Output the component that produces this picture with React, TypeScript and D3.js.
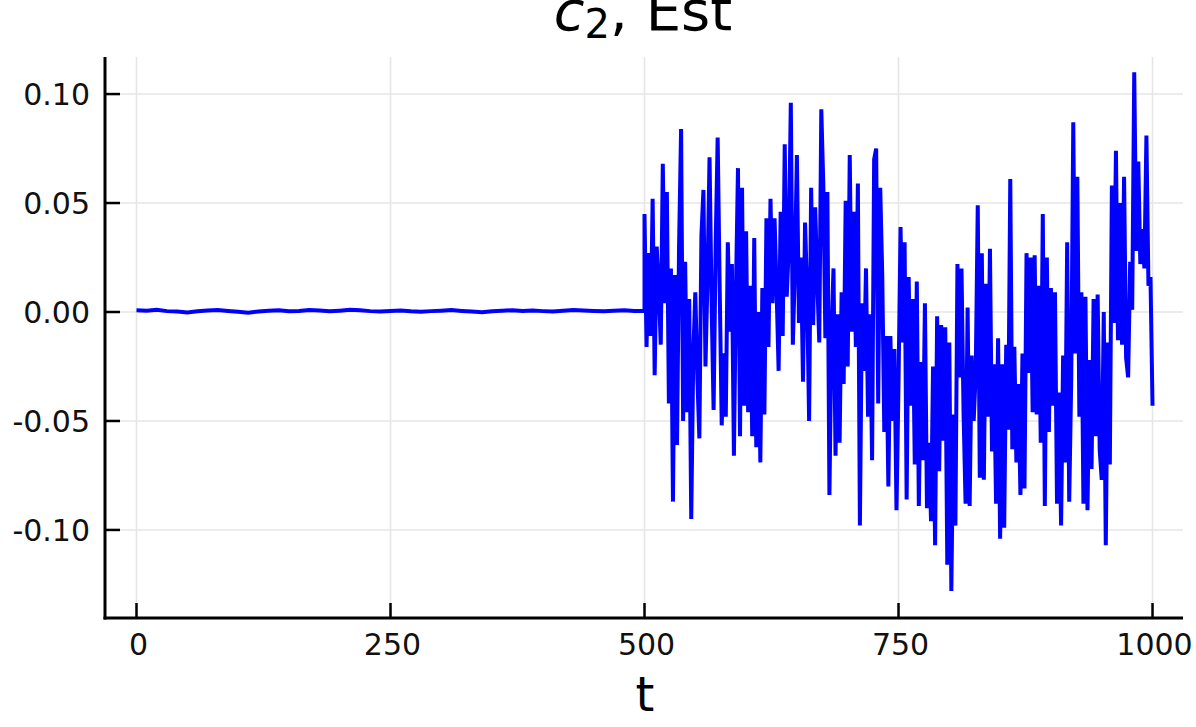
import { useMemo } from "react";
import * as d3 from "d3";

const width = 1196;
const height = 727;

// plot box, in page pixels
const left = 105;
const right = 1183;
const top = 57;
const bottom = 618;

const xTicks = [0, 250, 500, 750, 1000];
const yTicks = [0.1, 0.05, 0, -0.05, -0.1];
const yTickLabels = ["0.10", "0.05", "0.00", "-0.05", "-0.10"];

// t = 0, 10, ..., 500  (values in thousandths)
const flatStep = 10;
const flatValues = [
  0.8, 0.6, 1.0, 0.4, 0.2, -0.2, 0.3, 0.7, 0.9, 0.5,
  0.1, -0.3, 0.2, 0.6, 0.8, 0.4, 0.5, 0.9, 0.7, 0.3,
  0.6, 1.0, 0.8, 0.4, 0.2, 0.5, 0.7, 0.3, 0.1, 0.4,
  0.6, 0.9, 0.5, 0.2, -0.1, 0.3, 0.6, 0.8, 0.5, 0.7,
  0.4, 0.2, 0.6, 0.9, 0.7, 0.5, 0.3, 0.6, 0.8, 0.5,
  0.6,
];

// t = 500, 502, ..., 1000  (values in hundredths)
const noisyStart = 500;
const noisyStep = 2;
const noisyValues = [
  4.5, -1.6, 2.7, -1.1, 5.2, -2.9, 3.0, 1.2, -1.5, 6.8,
  0.4, 5.5, -4.2, 2.0, -8.7, 1.7, -6.1, 3.0, 8.4, -5.0,
  2.3, -4.6, 0.6, -9.5, -2.0, 0.9, -3.0, -5.8, 3.5, 5.6,
  -2.5, 1.5, 7.1, 0.5, -4.5, 3.0, 8.0, 1.1, -5.2, -1.9,
  -4.8, 3.2, -0.9, 2.2, -6.6, 1.0, 6.6, -5.7, 5.7, -4.3,
  3.7, -4.6, 1.2, -5.7, 3.4, -6.2, 0.0, -6.9, 1.1, -4.7,
  4.3, -1.6, 5.2, 0.4, 4.3, 1.0, -2.7, 4.6, -1.1, 7.7,
  0.7, 3.0, 9.6, -1.5, 2.0, 7.2, -0.5, 2.5, -3.2, 4.1,
  1.0, -5.0, 5.7, -0.6, 4.8, 1.5, -1.4, 9.3, 5.8, -1.2,
  5.5, -8.4, -1.1, 2.0, -6.6, -0.1, -6.0, 0.9, -3.3, 5.1,
  -2.5, 7.2, -0.9, 4.6, -1.6, 5.9, -9.8, 0.4, -2.7, 2.0,
  -4.8, -0.1, -6.8, 7.0, 7.5, -4.2, 5.7, 1.7, -5.5, -1.1,
  -8.0, -1.1, -5.0, -1.7, -9.1, -3.3, 3.9, -1.4, 3.2, -8.6,
  1.6, -4.3, 0.6, -7.0, 1.4, -8.9, -2.3, -6.8, 0.4, -9.0,
  -6.0, -9.6, -2.5, -10.7, -0.2, -7.3, -0.6, -5.9, -0.7, -11.6,
  -1.4, -12.8, -4.7, -9.8, 2.2, -3.0, 2.0, -4.6, -8.8, 0.2,
  -8.9, -2.0, -5.0, -2.8, 4.9, -7.6, 2.7, -7.7, 1.3, -4.8,
  2.9, -6.4, -2.4, -8.8, -1.2, -10.4, -2.4, -9.9, -1.5, -5.4,
  6.1, -6.3, -1.6, -6.9, -3.3, -8.4, -1.9, -8.1, 2.7, -2.8,
  2.5, -4.6, 2.6, -4.7, 1.2, -6.0, 4.5, -8.9, 2.5, -5.5,
  1.1, -4.3, 0.9, -8.8, -3.7, -9.8, -2.0, -6.9, 3.2, -8.7,
  -3.1, 8.7, -1.9, 6.2, -4.8, 0.9, -8.8, 0.7, -9.1, -2.2,
  -7.2, 0.6, -5.7, 0.8, -6.3, -7.7, 0.0, -10.7, -1.4, -7.0,
  5.8, -0.5, 7.4, -1.3, 5.0, -1.5, 6.2, -2.1, -3.0, 2.3,
  0.1, 11.0, 2.8, 6.9, 2.2, 3.8, 2.0, 8.1, 1.2, 1.6,
  -4.3,
];

const font = "'DejaVu Sans', sans-serif";

export default function App() {
  const x = d3.scaleLinear().domain([-31, 1030]).range([left, right]);
  const y = d3.scaleLinear().domain([-0.1404, 0.117]).range([bottom, top]);

  const points = useMemo(() => {
    const a: [number, number][] = flatValues.map((v, i) => [i * flatStep, v / 1000]);
    noisyValues.forEach((v, i) => a.push([noisyStart + i * noisyStep, v / 100]));
    return a;
  }, []);

  const line = d3
    .line<[number, number]>()
    .x((d) => x(d[0]))
    .y((d) => y(d[1]));

  return (
    <svg
      width={width}
      height={height}
      style={{ position: "absolute", left: 0, top: 0, background: "#fff" }}
    >
      {/* grid */}
      {xTicks.map((t) => (
        <line key={"gx" + t} x1={x(t)} x2={x(t)} y1={top} y2={bottom} stroke="#e6e6e6" strokeWidth={1.6} />
      ))}
      {yTicks.map((t) => (
        <line key={"gy" + t} x1={left} x2={right} y1={y(t)} y2={y(t)} stroke="#e6e6e6" strokeWidth={1.6} />
      ))}

      <path d={line(points) ?? ""} fill="none" stroke="#0000ff" strokeWidth={4} strokeLinejoin="miter" strokeMiterlimit={2} />

      {/* axes */}
      <line x1={left} x2={left} y1={top} y2={bottom + 1.5} stroke="#000" strokeWidth={3} />
      <line x1={left - 1.5} x2={right} y1={bottom} y2={bottom} stroke="#000" strokeWidth={3} />
      {xTicks.map((t) => (
        <g key={"tx" + t}>
          <line x1={x(t)} x2={x(t)} y1={bottom} y2={bottom - 15} stroke="#000" strokeWidth={2.5} />
          <text x={x(t) + 2} y={655} textAnchor="middle" fontFamily={font} fontSize={30} fill="#111">
            {t}
          </text>
        </g>
      ))}
      {yTicks.map((t, i) => (
        <g key={"ty" + t}>
          <line x1={left} x2={left + 15} y1={y(t)} y2={y(t)} stroke="#000" strokeWidth={2.5} />
          <text x={90} y={y(t)} dy="0.36em" textAnchor="end" fontFamily={font} fontSize={30} fill="#111">
            {yTickLabels[i]}
          </text>
        </g>
      ))}

      {/* title */}
      <text x={643} y={30} textAnchor="middle" fontFamily={font} fontSize={56} fill="#000">
        <tspan fontStyle="italic">c</tspan>
        <tspan fontSize={40} dy={8}>2</tspan>
        <tspan dy={-8}>, Est</tspan>
      </text>

      {/* x label */}
      <text x={645} y={711} textAnchor="middle" fontFamily={font} fontSize={48} fill="#000">
        t
      </text>
    </svg>
  );
}
